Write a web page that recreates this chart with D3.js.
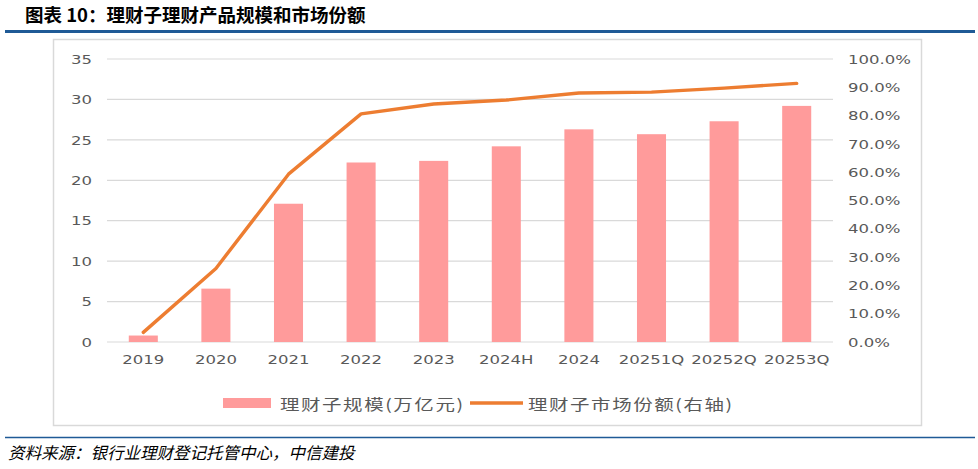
<!DOCTYPE html>
<html>
<head>
<meta charset="utf-8">
<script src="https://cdn.jsdelivr.net/npm/d3@7/dist/d3.min.js"></script>
<style>
  body { margin: 0; background: #fff; }
  svg { display: block; }
</style>
</head>
<body>
<svg id="chart"></svg>
<script>
const categories = ['2019', '2020', '2021', '2022', '2023', '2024H', '2024', '20251Q', '20252Q', '20253Q'];
const scale = [0.8, 6.6, 17.1, 22.2, 22.4, 24.2, 26.3, 25.7, 27.3, 29.2]; // 万亿元
const share = [0.034, 0.26, 0.593, 0.806, 0.841, 0.855, 0.88, 0.883, 0.897, 0.914];
const leftTicks = [0, 5, 10, 15, 20, 25, 30, 35];
const rightTicks = [0, 0.1, 0.2, 0.3, 0.4, 0.5, 0.6, 0.7, 0.8, 0.9, 1.0];

const W = 978, H = 469;
const svg = d3.select('#chart').attr('width', W).attr('height', H);

const cjk = '"Noto Sans CJK SC", "Noto Sans", sans-serif';
const num = '"DejaVu Sans", Verdana, sans-serif';
const stretch = 'scale(1.27,1)'; // the chart text in the source is a bit wide

// title
svg.append('text')
    .attr('x', 25).attr('y', 22)
    .attr('font-family', cjk).attr('font-weight', 'bold')
    .attr('font-size', 18.5).attr('fill', '#000')
    .text('图表 10：理财子理财产品规模和市场份额');

svg.append('line')
    .attr('x1', 5).attr('x2', 975).attr('y1', 31.5).attr('y2', 31.5)
    .attr('stroke', '#1f5a96').attr('stroke-width', 3);

// chart frame
svg.append('rect')
    .attr('x', 53.5).attr('y', 39.5).attr('width', 868).attr('height', 386)
    .attr('fill', 'none').attr('stroke', '#d9d9d9').attr('stroke-width', 1.5);

const x = d3.scaleBand().domain(categories).range([107, 833]).paddingInner(0.6).paddingOuter(0.3);
const y = d3.scaleLinear().domain([0, 35]).range([342, 59]);
const y2 = d3.scaleLinear().domain([0, 1]).range([342, 59]);

// gridlines
svg.append('g')
    .selectAll('line')
    .data(leftTicks)
    .join('line')
    .attr('x1', 107).attr('x2', 833)
    .attr('y1', d => y(d)).attr('y2', d => y(d))
    .attr('stroke', '#d9d9d9').attr('stroke-width', 1.2);

// left axis
const yAxis = svg.append('g')
    .attr('transform', 'translate(92,0)')
    .call(d3.axisLeft(y).tickValues(leftTicks).tickSize(0).tickPadding(0));
yAxis.select('.domain').remove();
yAxis.selectAll('text')
    .attr('font-family', num).attr('font-size', 13).attr('fill', '#595959')
    .attr('transform', stretch);

// right axis
const y2Axis = svg.append('g')
    .attr('transform', 'translate(848,0)')
    .call(d3.axisRight(y2).tickValues(rightTicks).tickFormat(d3.format('.1%')).tickSize(0).tickPadding(0));
y2Axis.select('.domain').remove();
y2Axis.selectAll('text')
    .attr('font-family', num).attr('font-size', 13).attr('fill', '#595959')
    .attr('transform', stretch);

// x axis
const xAxis = svg.append('g')
    .attr('transform', 'translate(0,342)')
    .call(d3.axisBottom(x).tickSize(0).tickPadding(13));
xAxis.select('.domain').remove();
xAxis.selectAll('text')
    .attr('font-family', num).attr('font-size', 13).attr('fill', '#595959')
    .attr('transform', stretch);

// bars
svg.append('g')
    .selectAll('rect')
    .data(categories)
    .join('rect')
    .attr('x', d => x(d))
    .attr('width', x.bandwidth())
    .attr('y', (d, i) => y(scale[i]))
    .attr('height', (d, i) => y(0) - y(scale[i]))
    .attr('fill', '#ff9b9b');

// share line
const line = d3.line()
    .x((d, i) => x(categories[i]) + x.bandwidth() / 2)
    .y(d => y2(d));

svg.append('path')
    .datum(share)
    .attr('d', line)
    .attr('fill', 'none')
    .attr('stroke', '#ed7d31')
    .attr('stroke-width', 3.4)
    .attr('stroke-linejoin', 'round')
    .attr('stroke-linecap', 'round');

// legend
const legend = svg.append('g').attr('font-family', cjk).attr('font-size', 15).attr('fill', '#595959');
legend.append('rect')
    .attr('x', 223).attr('y', 398).attr('width', 48).attr('height', 10)
    .attr('fill', '#ff9b9b');
legend.append('text')
    .attr('transform', 'translate(280,410) scale(1.3,1)')
    .attr('letter-spacing', 1.2)
    .text('理财子规模(万亿元)');
legend.append('line')
    .attr('x1', 470).attr('x2', 523).attr('y1', 403).attr('y2', 403)
    .attr('stroke', '#ed7d31').attr('stroke-width', 3.4);
legend.append('text')
    .attr('transform', 'translate(528,410) scale(1.3,1)')
    .attr('letter-spacing', 1.2)
    .text('理财子市场份额(右轴)');

// source
svg.append('line')
    .attr('x1', 5).attr('x2', 975).attr('y1', 437.5).attr('y2', 437.5)
    .attr('stroke', '#1f5a96').attr('stroke-width', 1.5);

svg.append('text')
    .attr('x', 8).attr('y', 459)
    .attr('font-family', cjk).attr('font-style', 'italic')
    .attr('font-size', 16.5).attr('fill', '#000')
    .text('资料来源：银行业理财登记托管中心，中信建投');
</script>
</body>
</html>
